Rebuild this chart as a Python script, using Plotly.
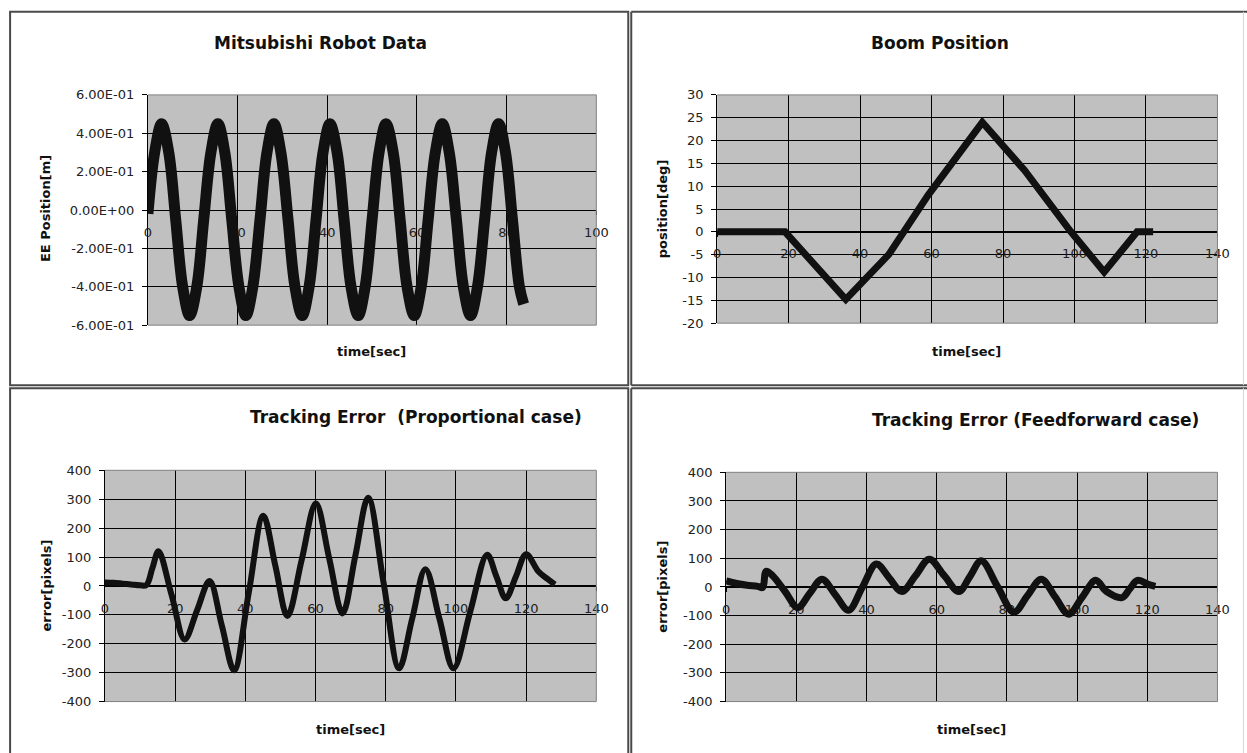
import plotly.graph_objects as go

W, H = 1247, 753

# ---------------- data ----------------
# Panel 1: Mitsubishi Robot Data (EE position [m] vs time [sec])
t1 = [0.0, 1.5, 3.05, 4.65, 6.2, 7.75, 9.3, 10.9, 12.45, 14.05, 15.6, 17.15, 18.7, 20.3,
      21.85, 23.4, 25.0, 26.55, 28.1, 29.65, 31.25, 32.8, 34.4, 35.95, 37.5, 39.05, 40.6,
      42.2, 43.75, 45.3, 46.9, 48.45, 50.0, 51.55, 53.1, 54.7, 56.25, 57.8, 59.4, 60.95,
      62.5, 64.1, 65.65, 67.2, 68.8, 70.35, 71.95, 73.5, 75.1, 76.65, 78.2, 79.75, 81.3,
      82.85, 83.8]
y1 = [-0.02, 0.30, 0.45, 0.30, -0.05, -0.40, -0.55, -0.40, -0.05, 0.30, 0.45, 0.30, -0.05, -0.40,
      -0.55, -0.40, -0.05, 0.30, 0.45, 0.30, -0.05, -0.40, -0.55, -0.40, -0.05, 0.30, 0.45,
      0.30, -0.05, -0.40, -0.55, -0.40, -0.05, 0.30, 0.45, 0.30, -0.05, -0.40, -0.55, -0.40,
      -0.05, 0.30, 0.45, 0.30, -0.05, -0.40, -0.55, -0.40, -0.05, 0.30, 0.45, 0.30, -0.05,
      -0.40, -0.49]

# Panel 2: Boom Position [deg]
t2 = [0, 19, 36, 48, 59, 74.2, 86, 99, 108.3, 117.5, 122]
y2 = [0, 0, -14.8, -5, 8, 24, 13.5, 0, -8.8, 0, 0]

# Panel 3: Tracking Error (Proportional case) [pixels]
t3 = [0, 2.5, 5, 7.5, 10, 11.8, 13.5, 15.25, 19.0, 22.7, 26.25, 29.8, 33.3, 36.8, 40.95,
      45.1, 48.55, 52.0, 56.05, 60.1, 63.9, 67.7, 71.35, 75.0, 79.4, 83.8, 87.55, 91.3,
      95.3, 99.3, 104.1, 108.9, 111.55, 114.2, 117.1, 120.0, 123.5, 126.0, 128.2]
y3 = [12, 11, 8, 5, 2, 3, 61, 120, -32, -185, -84, 17, -137, -292, -25,
      243, 70, -104, 90, 285, 95, -95, 105, 305, 10, -285, -113, 58,
      -113, -285, -88, 108, 32, -43, 33, 110, 50, 25, 5]

# Panel 4: Tracking Error (Feedforward case) [pixels]
t4 = [0, 3, 6, 9, 10.4, 11.4, 13.2, 16.8, 20.4, 23.85, 27.3, 31.1, 34.9, 38.85, 42.8,
      46.45, 50.1, 54.0, 57.9, 62.1, 66.3, 69.5, 72.7, 77.35, 82.0, 85.9, 89.8, 93.7,
      97.6, 101.45, 105.3, 108.3, 112.8, 115.0, 117.2, 120.5, 122.3]
y4 = [21, 12, 6, 2, -2, 55, 40, -16, -72, -22, 27, -27, -81, 0, 80,
      32, -16, 40, 97, 40, -16, 37, 91, 1, -88, -30, 27, -34,
      -95, -36, 23, -15, -37, -7, 23, 8, 2]

x_ticks_100 = [0, 20, 40, 60, 80, 100]
x_ticks_140 = [0, 20, 40, 60, 80, 100, 120, 140]
y1_ticks = [0.6, 0.4, 0.2, 0.0, -0.2, -0.4, -0.6]
y1_labels = ["6.00E-01", "4.00E-01", "2.00E-01", "0.00E+00", "-2.00E-01", "-4.00E-01", "-6.00E-01"]
y2_ticks = [30, 25, 20, 15, 10, 5, 0, -5, -10, -15, -20]
y2_labels = ["30", "25", "20", "15", "10", "5", "0", "-5", "-10", "-15", "-20"]
yerr_ticks = [400, 300, 200, 100, 0, -100, -200, -300, -400]
yerr_labels = ["400", "300", "200", "100", "0", "-100", "-200", "-300", "-400"]

titles = ["Mitsubishi Robot Data", "Boom Position",
          "Tracking Error\u00a0 (Proportional case)", "Tracking Error (Feedforward case)"]
ytitles = ["EE Position[m]", "position[deg]", "error[pixels]", "error[pixels]"]
xtitle = "time[sec]"

assert len(t1) == len(y1) and len(t2) == len(y2) and len(t3) == len(y3) and len(t4) == len(y4)

# ---------------- layout helpers ----------------
# the page is photographed with a slight scale/offset; compensate so that
# target pixel positions land where intended
AX, BX = 0.9885, 2.9
AY, BY = 0.979, 7.2


def fx(px):
    return ((px - BX) / AX) / W


def fy(py):
    return 1 - ((py - BY) / AY) / H


FONT = "DejaVu Sans"
BG = "#c0c0c0"
INK = "#111111"
TICKINK = "#222222"
FRAME = "#4a4a4a"

# plot areas in target pixels: (left, right, top, bottom)
areas = [(147, 596, 95, 325), (717, 1218, 95, 323), (104, 596, 470, 701), (726, 1218, 472, 701)]
xranges = [[0, 100], [0, 140], [0, 140], [0, 140]]
yranges = [[-0.6, 0.6], [-20, 30], [-400, 400], [-400, 400]]
xtickvals = [x_ticks_100, x_ticks_140, x_ticks_140, x_ticks_140]
ytickvals = [y1_ticks, y2_ticks, yerr_ticks, yerr_ticks]
yticktext = [y1_labels, y2_labels, yerr_labels, yerr_labels]
series = [(t1, y1, 11, "spline"), (t2, y2, 7, "linear"), (t3, y3, 6, "spline"), (t4, y4, 7, "spline")]

title_pos = [(320, 43), (940, 43), (415, 417), (1036, 420)]
ytitle_pos = [(44, 209), (662, 209), (45, 585), (662, 586)]
xtitle_pos = [(371, 351), (967, 351), (350, 729), (972, 729)]

fig = go.Figure()
layout = dict(
    width=W, height=H,
    margin=dict(l=0, r=0, t=0, b=0),
    paper_bgcolor="white",
    plot_bgcolor=BG,
    showlegend=False,
    font=dict(family=FONT, size=13, color=INK),
)

shapes = []
annotations = []

for i in range(4):
    n = "" if i == 0 else str(i + 1)
    L, R, T, B = areas[i]
    xd = [fx(L), fx(R)]
    yd = [fy(B), fy(T)]
    ymin, ymax = yranges[i]
    zero_pos = yd[0] + (0 - ymin) / (ymax - ymin) * (yd[1] - yd[0])
    t, y, lw, shp = series[i]
    fig.add_trace(go.Scatter(
        x=t, y=y, mode="lines", xaxis="x" + n, yaxis="y" + n,
        line=dict(color=INK, width=lw, shape=shp, smoothing=1.0),
        hoverinfo="skip"))
    layout["xaxis" + n] = dict(
        domain=xd, range=xranges[i], tickvals=xtickvals[i],
        ticks="outside", ticklen=4, tickcolor="black",
        showline=True, linecolor="black", linewidth=1,
        showgrid=True, gridcolor="black", gridwidth=1, zeroline=False,
        anchor="free", position=zero_pos, layer="below traces",
        tickfont=dict(family=FONT, size=13, color=TICKINK),
        ticklabelstandoff=6,
    )
    layout["yaxis" + n] = dict(
        domain=yd, range=yranges[i], tickvals=ytickvals[i], ticktext=yticktext[i],
        ticks="outside", ticklen=5, tickcolor="black",
        showline=True, linecolor="black", linewidth=1,
        showgrid=True, gridcolor="black", gridwidth=1,
        zeroline=True, zerolinecolor="black", zerolinewidth=1,
        anchor="x" + n, layer="below traces",
        tickfont=dict(family=FONT, size=13, color=TICKINK),
        ticklabelstandoff=5,
    )
    # plot area border (top, right, bottom) in grey
    shapes.append(dict(type="path", xref="paper", yref="paper",
                       path=f"M {xd[0]},{yd[1]} L {xd[1]},{yd[1]} L {xd[1]},{yd[0]} L {xd[0]},{yd[0]}",
                       line=dict(color="#808080", width=1), layer="above"))
    annotations.append(dict(text="<b>" + titles[i] + "</b>", x=fx(title_pos[i][0]), y=fy(title_pos[i][1]),
                            xref="paper", yref="paper", showarrow=False, xanchor="center", yanchor="middle",
                            font=dict(family=FONT, size=17, color=INK)))
    annotations.append(dict(text="<b>" + ytitles[i] + "</b>", x=fx(ytitle_pos[i][0]), y=fy(ytitle_pos[i][1]),
                            xref="paper", yref="paper", showarrow=False, xanchor="center", yanchor="middle",
                            textangle=-90, font=dict(family=FONT, size=13, color=INK)))
    annotations.append(dict(text="<b>" + xtitle + "</b>", x=fx(xtitle_pos[i][0]), y=fy(xtitle_pos[i][1]),
                            xref="paper", yref="paper", showarrow=False, xanchor="center", yanchor="middle",
                            font=dict(family=FONT, size=13, color=INK)))


def seg(xa, ya, xb, yb, color=FRAME, width=2):
    return dict(type="line", xref="paper", yref="paper",
                x0=fx(xa), y0=fy(ya), x1=fx(xb), y1=fy(yb),
                line=dict(color=color, width=width), layer="above")


# chart (panel) borders: left charts fully framed, right charts open to the page edge
shapes.append(dict(type="rect", xref="paper", yref="paper",
                   x0=fx(9), x1=fx(628), y0=fy(385), y1=fy(12),
                   line=dict(color=FRAME, width=2), fillcolor="rgba(0,0,0,0)", layer="above"))
shapes.append(dict(type="rect", xref="paper", yref="paper",
                   x0=fx(9), x1=fx(628), y0=fy(775), y1=fy(388),
                   line=dict(color=FRAME, width=2), fillcolor="rgba(0,0,0,0)", layer="above"))
shapes += [
    seg(631, 12, 1252, 12), seg(631, 12, 631, 385), seg(631, 385, 1252, 385),
    seg(631, 388, 1252, 388), seg(631, 388, 631, 775),
    seg(1244, 12, 1244, 385, color="#d8d8d8", width=1),
    seg(1244, 388, 1244, 775, color="#d8d8d8", width=1),
]

layout["shapes"] = shapes
layout["annotations"] = annotations
fig.update_layout(**layout)
fig.write_html("out.html", config={"displayModeBar": False},
               post_script="document.body.style.margin='0';document.body.style.padding='0';"
                           "document.body.style.overflow='hidden';")
